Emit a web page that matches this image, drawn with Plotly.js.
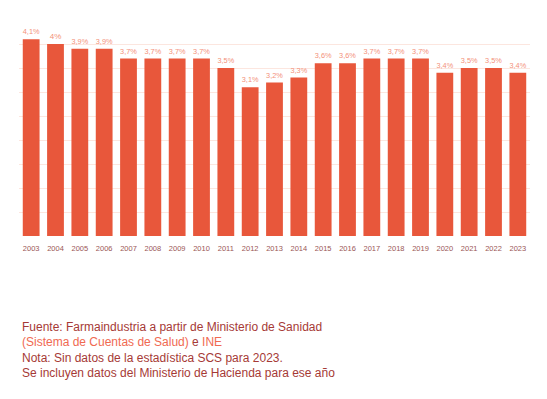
<!DOCTYPE html>
<html>
<head>
<meta charset="utf-8">
<script src="https://cdn.plot.ly/plotly-3.0.1.min.js"></script>
<style>html,body{margin:0;padding:0;background:#fff;}#chart{width:547px;height:399px;}</style>
</head>
<body>
<div id="chart"></div>
<script>
const years = ["2003","2004","2005","2006","2007","2008","2009","2010","2011","2012","2013","2014","2015","2016","2017","2018","2019","2020","2021","2022","2023"];
const values = [4.1,4.0,3.9,3.9,3.7,3.7,3.7,3.7,3.5,3.1,3.2,3.3,3.6,3.6,3.7,3.7,3.7,3.4,3.5,3.5,3.4];
const labels = values.map(v => String(v).replace('.', ',') + '%');

const sourceLines = [
  "Fuente: Farmaindustria a partir de Ministerio de Sanidad",
  "<span style='color:#f06a52'>(Sistema de Cuentas de Salud)</span> e <span style='color:#f06a52'>INE</span>",
  "Nota: Sin datos de la estadística SCS para 2023.",
  "Se incluyen datos del Ministerio de Hacienda para ese año"
];
const linePx = [326.5, 342, 357.5, 372.5];

const mt = 20, mb = 163, H = 399, ph = H - mt - mb;
const annotations = sourceLines.map((t, i) => ({
  text: t, xref: 'paper', yref: 'paper', x: 0, xanchor: 'left',
  xshift: 1,
  y: 1 - (linePx[i] - mt) / ph, yanchor: 'middle',
  showarrow: false, align: 'left',
  font: {family: 'Liberation Sans, Arial, sans-serif', size: 12, color: '#a63a36'}
}));

Plotly.newPlot('chart', [{
  type: 'bar', x: years, y: values,
  text: labels, textposition: 'outside', cliponaxis: false,
  textfont: {family: 'Liberation Sans, Arial, sans-serif', size: 8, color: '#f3917a'},
  marker: {color: '#e8573b'},
  hoverinfo: 'none'
}], {
  width: 547, height: 399,
  margin: {l: 19, r: 17, t: mt, b: mb},
  paper_bgcolor: '#fff', plot_bgcolor: '#fff',
  bargap: 0.31,
  showlegend: false,
  xaxis: {type: 'category', showgrid: false, zeroline: false, showline: false, ticks: '',
    tickfont: {family: 'Liberation Sans, Arial, sans-serif', size: 7.5, color: '#9a5656'}, ticklabelstandoff: 6},
  yaxis: {range: [0, 4.5], dtick: 0.5, showticklabels: false, showgrid: true, gridcolor: '#fce6df', gridwidth: 1,
    zeroline: false, showline: false, ticks: ''},
  annotations: annotations
}, {displayModeBar: false, staticPlot: true});
</script>
</body>
</html>
